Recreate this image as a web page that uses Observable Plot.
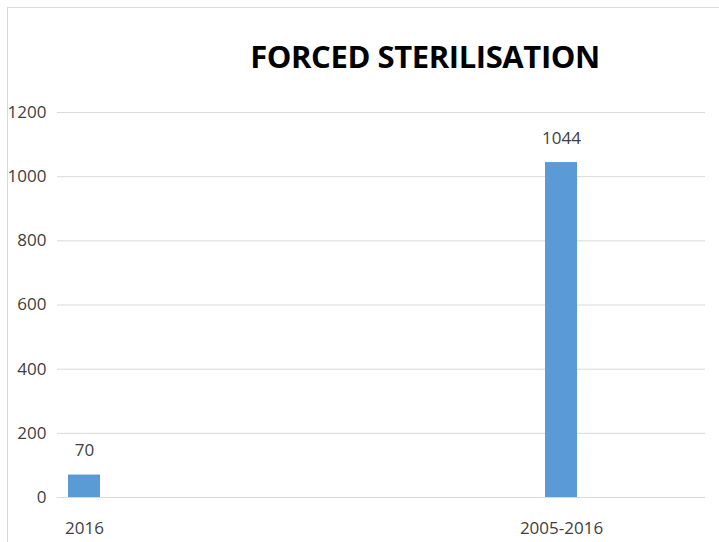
<!DOCTYPE html>
<html>
<head>
<meta charset="utf-8">
<script src="https://cdn.jsdelivr.net/npm/d3@7"></script>
<script src="https://cdn.jsdelivr.net/npm/@observablehq/plot@0.6"></script>
<style>
  html, body { margin: 0; padding: 0; background: #fff; overflow: hidden; }
  #wrap { position: relative; width: 719px; height: 542px; font-family: "Open Sans", sans-serif; }
  #frame { position: absolute; left: 7px; top: 7px; width: 800px; height: 600px; border: 1px solid #d9d9d9; box-sizing: border-box; }
  #title { position: absolute; top: 36px; left: 425px; transform: translateX(-50%); white-space: nowrap;
           font-size: 31px; font-weight: 700; color: #000; letter-spacing: -0.4px; line-height: 40px; }
  #chart { position: absolute; left: 0; top: 0; }
</style>
</head>
<body>
<div id="wrap">
  <div id="frame"></div>
  <div id="chart"></div>
  <div id="title">FORCED STERILISATION</div>
</div>
<script>
const categories = ["2016", "2005-2016"];
const values = [70, 1044];
const yTicks = [0, 200, 400, 600, 800, 1000, 1200];

const data = categories.map((c, i) => ({category: c, value: values[i]}));

const chart = Plot.plot({
  width: 719,
  height: 542,
  marginLeft: 57,
  marginRight: 14,
  marginTop: 112,
  marginBottom: 45,
  style: {fontFamily: "Open Sans, sans-serif", fontSize: "17px", color: "#404040", background: "transparent", overflow: "visible"},
  x: {
    domain: categories,
    type: "band",
    paddingInner: 0.933,
    paddingOuter: 0.1457,
    align: 0.079,
    label: null,
    tickSize: 0,
    tickPadding: 24
  },
  y: {
    domain: [0, 1200],
    ticks: yTicks,
    label: null,
    tickSize: 0,
    tickPadding: 11,
    tickFormat: d => String(d)
  },
  marks: [
    Plot.ruleY(yTicks, {stroke: "#d9d9d9", strokeWidth: 1}),
    Plot.barY(data, {x: "category", y: "value", fill: "#5b9bd5", inset: 0}),
    Plot.text(data, {x: "category", y: "value", text: d => String(d.value), dy: -24, fill: "#404040", fontSize: 17})
  ]
});
document.getElementById("chart").appendChild(chart);
</script>
</body>
</html>
